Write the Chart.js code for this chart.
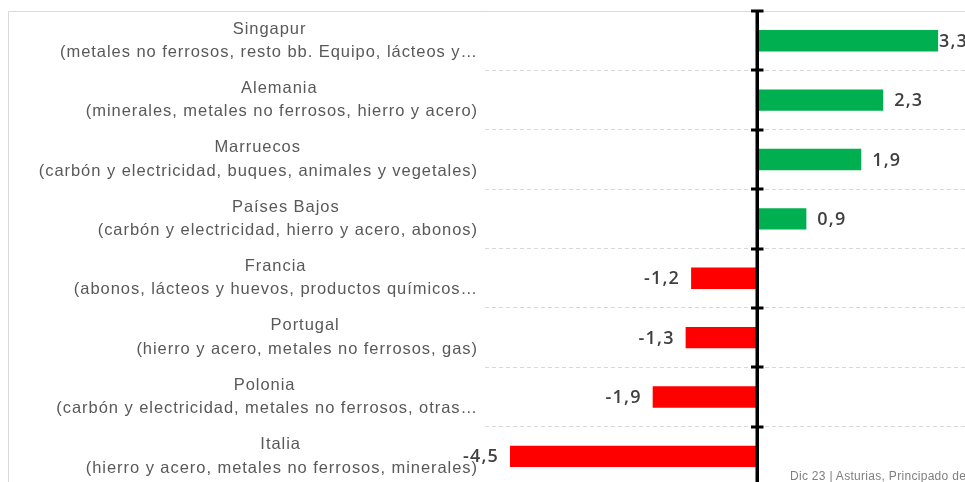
<!DOCTYPE html>
<html>
<head>
<meta charset="utf-8">
<script src="https://cdn.jsdelivr.net/npm/chart.js@4/dist/chart.umd.min.js"></script>
<style>
  html, body { margin: 0; padding: 0; overflow: hidden; background: #fff; width: 965px; height: 482px; }
  #wrap { position: relative; width: 965px; height: 486px; }
  #note { position: absolute; left: 790px; top: 469px; font: 12px "Liberation Sans", Arial, sans-serif; letter-spacing: 0.3px; color: #7f7f7f; white-space: nowrap; }
</style>
</head>
<body>
<div id="wrap">
  <canvas id="c" width="965" height="486"></canvas>
  <div id="note">Dic 23 | Asturias, Principado de España</div>
</div>
<script>
const countries = ["Singapur", "Alemania", "Marruecos", "Países Bajos", "Francia", "Portugal", "Polonia", "Italia"];
const products = [
  "(metales no ferrosos, resto bb. Equipo, lácteos y…",
  "(minerales, metales no ferrosos, hierro y acero)",
  "(carbón y electricidad, buques, animales y vegetales)",
  "(carbón y electricidad, hierro y acero, abonos)",
  "(abonos, lácteos y huevos, productos químicos…",
  "(hierro y acero, metales no ferrosos, gas)",
  "(carbón y electricidad, metales no ferrosos, otras…",
  "(hierro y acero, metales no ferrosos, minerales)"
];
const values = [3.3, 2.3, 1.9, 0.9, -1.2, -1.3, -1.9, -4.5];

const LABEL_FONT = '16.5px "Liberation Sans", Arial, sans-serif';
const LABEL_SPACING = '0.95px';
const mctx = document.createElement('canvas').getContext('2d');
mctx.font = LABEL_FONT;
try { mctx.letterSpacing = LABEL_SPACING; } catch (e) {}
const spaceW = mctx.measureText(' ').width;
// Center the country name over the (right-aligned) product line
const labels = countries.map((c, i) => {
  const w1 = mctx.measureText(c).width;
  const w2 = mctx.measureText(products[i]).width;
  const n = Math.max(0, Math.round((w2 - w1) / 2 / spaceW));
  return [c + ' '.repeat(n), products[i]];
});

const fmt = v => v.toFixed(1).replace('.', ',');

const decor = {
  id: 'decor',
  beforeDraw(chart) {
    const ctx = chart.ctx;
    const top = chart.chartArea.top;
    ctx.save();
    ctx.strokeStyle = '#d9d9d9';
    ctx.lineWidth = 1;
    ctx.beginPath();
    ctx.moveTo(8.5, chart.height + 5);
    ctx.lineTo(8.5, top + 0.5);
    ctx.lineTo(chart.width + 5, top + 0.5);
    ctx.stroke();
    ctx.restore();
    try { ctx.letterSpacing = LABEL_SPACING; } catch (e) {}
  },
  beforeDatasetsDraw(chart) {
    try { chart.ctx.letterSpacing = '0px'; } catch (e) {}
  },
  afterDatasetsDraw(chart) {
    const ctx = chart.ctx;
    const x = chart.scales.x, y = chart.scales.y;
    const x0 = Math.round(x.getPixelForValue(0));
    const {top, bottom} = chart.chartArea;
    ctx.save();
    ctx.fillStyle = '#000';
    ctx.fillRect(x0 - 1.5, top, 3.5, bottom - top);
    const n = y.ticks.length;
    const step = (bottom - top) / n;
    for (let i = 0; i <= n; i++) {
      const yy = top + i * step;
      ctx.fillRect(x0 - 6, Math.round(yy) - 1.5, 12.5, 3);
    }
    // value labels
    const meta = chart.getDatasetMeta(0);
    ctx.font = '600 18px "Open Sans", "Liberation Sans", Arial, sans-serif';
    ctx.fillStyle = '#404040';
    ctx.textBaseline = 'middle';
    try { ctx.letterSpacing = '1.2px'; } catch (e) {}
    meta.data.forEach((bar, i) => {
      const v = values[i];
      const t = fmt(v);
      if (v >= 0) {
        ctx.textAlign = 'left';
        const w = ctx.measureText(t).width;
        const lx = Math.min(bar.x + 11, chart.width - w + 3);
        ctx.fillText(t, lx, bar.y + 1);
      } else {
        ctx.textAlign = 'right';
        ctx.fillText(t, bar.x - 11, bar.y + 1);
      }
    });
    ctx.restore();
  }
};

new Chart(document.getElementById('c'), {
  type: 'bar',
  data: {
    labels: labels,
    datasets: [{
      data: values,
      backgroundColor: values.map(v => v >= 0 ? '#00b050' : '#ff0000'),
      borderWidth: 0,
      categoryPercentage: 1,
      barPercentage: 0.36
    }]
  },
  options: {
    indexAxis: 'y',
    responsive: false,
    animation: false,
    layout: { padding: { top: 11, right: 0, bottom: 0, left: 0 } },
    plugins: { legend: { display: false }, tooltip: { enabled: false } },
    scales: {
      x: {
        display: false,
        min: -4.955,
        max: 3.79
      },
      y: {
        afterFit(scale) { scale.width = 485; scale.paddingTop = 0; scale.paddingBottom = 0; },
        border: { display: false, dash: [4, 3] },
        grid: {
          offset: true,
          drawTicks: false,
          color: ctx => ctx.index === 0 ? 'rgba(0,0,0,0)' : '#d9d9d9',
          lineWidth: 1
        },
        ticks: {
          padding: 7,
          color: '#595959',
          font: { family: '"Liberation Sans", Arial, sans-serif', size: 16.5, lineHeight: 1.42 }
        }
      }
    }
  },
  plugins: [decor]
});
</script>
</body>
</html>
